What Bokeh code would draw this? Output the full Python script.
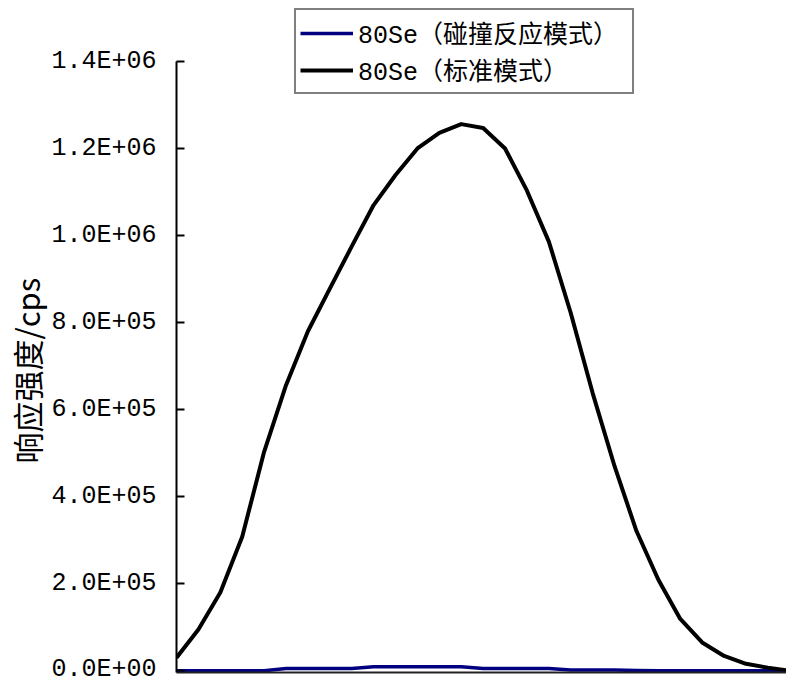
from bokeh.plotting import figure
from bokeh.models import Range1d, FixedTicker, Legend, LegendItem, Title
from bokeh.embed import file_html
from bokeh.resources import INLINE

# ---- data ----
x_index = [0, 1, 2, 3, 4, 5, 6, 7, 8, 9, 10, 11, 12, 13, 14, 15, 16, 17, 18, 19,
           20, 21, 22, 23, 24, 25, 26, 27, 28]
collision_mode = [0, 0, 0, 0, 0, 5000, 5000, 5000, 5000, 9000, 9000, 9000, 9000, 9000,
                  5000, 5000, 5000, 5000, 2000, 2000, 2000, 500, 0, 0, 0, 0, 0, 0, 0]
standard_mode = [30000, 95000, 180000, 308000, 503000, 656000, 780000, 878000, 975000,
                 1070000, 1139000, 1200000, 1236000, 1256000, 1247000, 1200000, 1103000,
                 986000, 822000, 638000, 470000, 321000, 209000, 119000, 65000, 34000,
                 16000, 7000, 0]
y_ticks = [0, 200000, 400000, 600000, 800000, 1000000, 1200000, 1400000]
y_tick_labels = ["0.0E+00", "2.0E+05", "4.0E+05", "6.0E+05", "8.0E+05",
                 "1.0E+06", "1.2E+06", "1.4E+06"]
series_labels = ["80Se（碰撞反应模式）", "80Se（标准模式）"]
y_title = "响应强度/cps"

TICK_FONT = "Liberation Mono, Noto Sans CJK SC"

p = figure(width=786, height=683, output_backend="svg", toolbar_location=None,
           x_range=Range1d(0, 27.85), y_range=Range1d(-4000, 1540000),
           min_border_left=176, min_border_right=0, min_border_top=0,
           min_border_bottom=11)
p.outline_line_color = None
p.grid.visible = False
p.background_fill_color = "white"

r1 = p.line(x_index, collision_mode, line_color="#000080", line_width=3.5,
            line_join="round")
r2 = p.line(x_index, standard_mode, line_color="black", line_width=4,
            line_join="round")

# y axis
ya = p.yaxis[0]
ya.ticker = FixedTicker(ticks=y_ticks)
ya.bounds = (-4000, 1400000)
ya.major_label_overrides = {t: s for t, s in zip(y_ticks, y_tick_labels)}
ya.major_tick_in = 8
ya.major_tick_out = 0
ya.minor_tick_in = 0
ya.minor_tick_out = 0
ya.axis_line_width = 2
ya.major_tick_line_width = 2
ya.axis_line_color = "black"
ya.major_tick_line_color = "black"
ya.major_label_standoff = 20
ya.major_label_text_font = TICK_FONT
ya.major_label_text_font_size = "25px"
ya.major_label_text_color = "black"

# y title as a side title, shifted along the axis
ytitle = Title(text=y_title, align="left", offset=209, standoff=0,
               text_font="Noto Sans CJK SC", text_font_size="31px",
               text_font_style="normal", text_color="black")
p.add_layout(ytitle, "left")

# x axis (line only)
xa = p.xaxis[0]
xa.ticker = FixedTicker(ticks=[])
xa.major_tick_in = 0
xa.major_tick_out = 0
xa.minor_tick_in = 0
xa.minor_tick_out = 0
xa.major_label_text_font_size = "0px"
xa.major_label_standoff = 0
xa.axis_line_width = 2
xa.axis_line_color = "#222222"

legend = Legend(items=[LegendItem(label=series_labels[0], renderers=[r1]),
                       LegendItem(label=series_labels[1], renderers=[r2])],
                location=(118, 578))
legend.border_line_color = "black"
legend.border_line_width = 2
legend.background_fill_color = "white"
legend.background_fill_alpha = 1
legend.padding = 4
legend.spacing = -3
legend.margin = 0
legend.label_standoff = 5
legend.glyph_width = 53
legend.glyph_height = 30
legend.label_height = 30
legend.label_width = 270
legend.label_text_font = TICK_FONT
legend.label_text_font_size = "25px"
legend.label_text_color = "black"
p.add_layout(legend)

open("out.html", "w").write(file_html(p, INLINE))
